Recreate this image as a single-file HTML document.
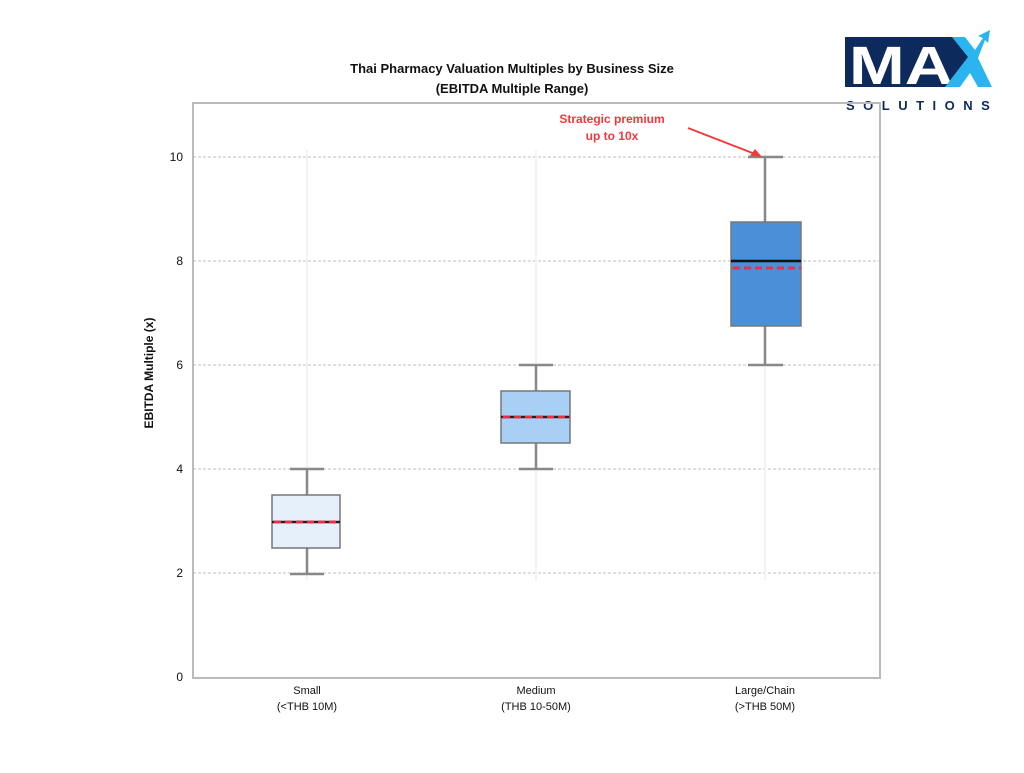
<!DOCTYPE html>
<html><head><meta charset="utf-8"><style>
body{margin:0;background:#fff;width:1024px;height:768px;overflow:hidden}
text{font-family:"Liberation Sans",sans-serif}
</style></head><body>
<svg width="1024" height="768" viewBox="0 0 1024 768" xmlns="http://www.w3.org/2000/svg">
<text x="512" y="73" text-anchor="middle" font-size="13" font-weight="bold" fill="#111">Thai Pharmacy Valuation Multiples by Business Size</text>
<text x="512" y="93" text-anchor="middle" font-size="13" font-weight="bold" fill="#111">(EBITDA Multiple Range)</text>
<!-- logo -->
<polygon points="845,37 960,37 975,58 955,87 845,87" fill="#0d2a5c"/>
<text x="849" y="84" font-size="54" font-weight="bold" fill="#fff" textLength="104" lengthAdjust="spacingAndGlyphs">MA</text>
<path d="M945,87 L968,57 L952,37 L965,37 L975,50 L983,38 L978,36 L990,30 L988,43 L985,40 L978,58 L992,87 L978,87 L970,73 L960,87Z" fill="#2bb5f0"/>
<text x="846" y="110" font-size="13" font-weight="bold" fill="#0d2a5c" letter-spacing="8.5">SOLUTIONS</text>
<!-- grid -->
<g stroke="#aaa" stroke-dasharray="3,2" stroke-width="0.8">
<line x1="193" x2="880" y1="573" y2="573"/><line x1="193" x2="880" y1="469" y2="469"/>
<line x1="193" x2="880" y1="365" y2="365"/><line x1="193" x2="880" y1="261" y2="261"/>
<line x1="193" x2="880" y1="157" y2="157"/>
</g>
<g stroke="#f2f2f2" stroke-width="2">
<line x1="307" x2="307" y1="150" y2="580"/><line x1="536" x2="536" y1="150" y2="580"/><line x1="765" x2="765" y1="150" y2="580"/>
</g>
<rect x="193" y="103" width="687" height="575" fill="none" stroke="#bbb" stroke-width="2"/>
<g font-size="12" fill="#111" text-anchor="end">
<text x="183" y="681">0</text><text x="183" y="577">2</text><text x="183" y="473">4</text><text x="183" y="369">6</text><text x="183" y="265">8</text><text x="183" y="161">10</text>
</g>
<text transform="translate(153,373) rotate(-90)" text-anchor="middle" font-size="12" font-weight="bold" fill="#111">EBITDA Multiple (x)</text>
<g font-size="11" fill="#111" text-anchor="middle">
<text x="307" y="694">Small</text><text x="307" y="710">(&lt;THB 10M)</text>
<text x="536" y="694">Medium</text><text x="536" y="710">(THB 10-50M)</text>
<text x="765" y="694">Large/Chain</text><text x="765" y="710">(&gt;THB 50M)</text>
</g>
<g stroke="#888" stroke-width="2.5">
<line x1="307" x2="307" y1="469" y2="574"/><line x1="290" x2="324" y1="469" y2="469"/><line x1="290" x2="324" y1="574" y2="574"/>
<line x1="536" x2="536" y1="365" y2="469"/><line x1="519" x2="553" y1="365" y2="365"/><line x1="519" x2="553" y1="469" y2="469"/>
<line x1="765" x2="765" y1="157" y2="365"/><line x1="748" x2="783" y1="157" y2="157"/><line x1="748" x2="783" y1="365" y2="365"/>
</g>
<g stroke="#777" stroke-width="1.5">
<rect x="272" y="495" width="68" height="53" fill="#e6f0fb"/>
<rect x="501" y="391" width="69" height="52" fill="#a8d0f5"/>
<rect x="731" y="222" width="70" height="104" fill="#4a90d9"/>
</g>
<g stroke-width="2.5">
<line x1="272" x2="340" y1="522" y2="522" stroke="#222"/>
<line x1="501" x2="570" y1="417" y2="417" stroke="#222"/>
<line x1="731" x2="801" y1="261" y2="261" stroke="#111"/>
</g>
<g stroke="#e8304a" stroke-width="3" stroke-dasharray="7,4">
<line x1="274" x2="340" y1="522" y2="522"/>
<line x1="503" x2="570" y1="417" y2="417"/>
<line x1="733" x2="801" y1="268" y2="268"/>
</g>
<text x="612" y="123" text-anchor="middle" font-size="12" font-weight="bold" fill="#f03a3a">Strategic premium</text>
<text x="612" y="140" text-anchor="middle" font-size="12" font-weight="bold" fill="#f03a3a">up to 10x</text>
<line x1="688" x2="755" y1="128" y2="154" stroke="#f03a3a" stroke-width="1.8"/>
<polygon points="762,157 750,156 755,149" fill="#f03a3a"/>
</svg>
</body></html>
